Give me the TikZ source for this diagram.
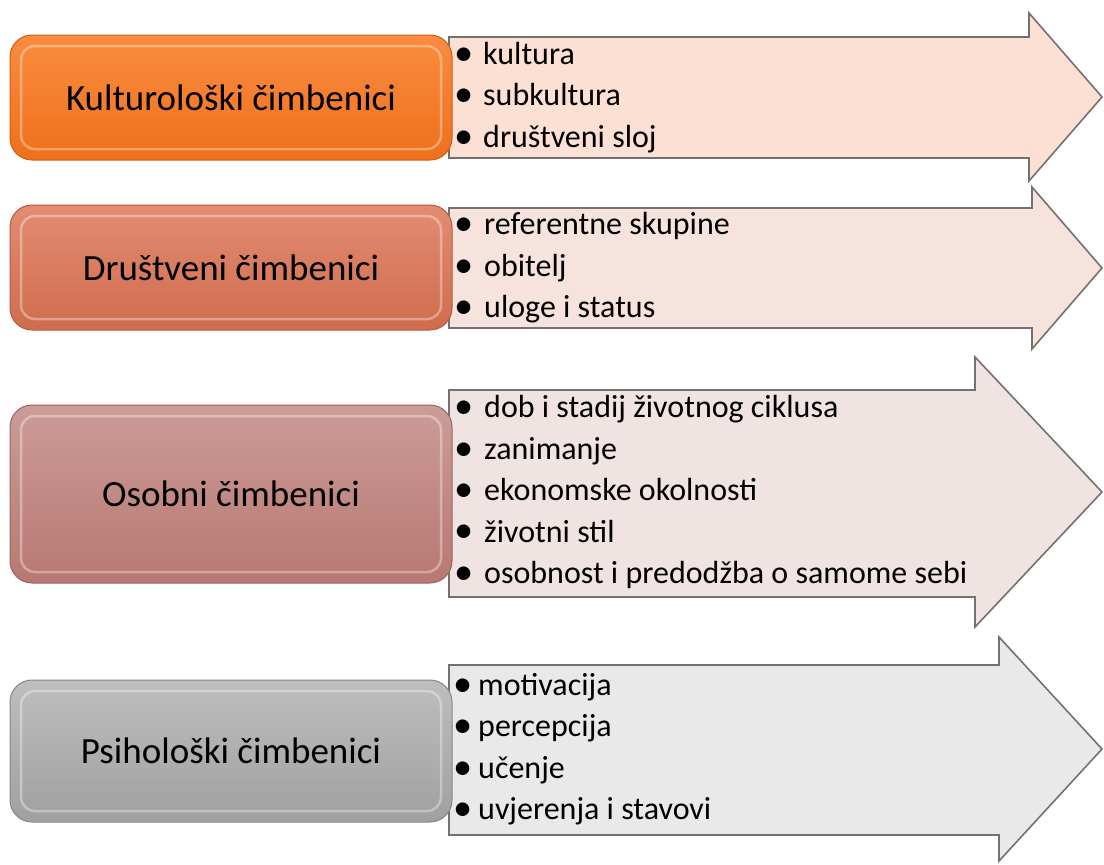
\documentclass[tikz,border=0pt]{standalone}
\usepackage{fontspec}
\setmainfont{Carlito}
\definecolor{kultTop}{RGB}{250,140,64}
\definecolor{kultBot}{RGB}{238,112,28}
\definecolor{drusTop}{RGB}{226,140,114}
\definecolor{drusBot}{RGB}{208,108,78}
\definecolor{osobTop}{RGB}{204,156,152}
\definecolor{osobBot}{RGB}{184,120,114}
\definecolor{psihTop}{RGB}{190,190,190}
\definecolor{psihBot}{RGB}{160,160,160}
\definecolor{str1}{RGB}{252,224,212}
\definecolor{str2}{RGB}{246,227,221}
\definecolor{str3}{RGB}{240,228,227}
\definecolor{str4}{RGB}{233,233,233}
\definecolor{rub}{RGB}{118,112,112}
\tikzstyle{faktor} = [draw, line width=1pt, rounded corners=22pt, minimum width=442pt,
    inner sep=0pt, align=center, font=\fontsize{37}{44}\selectfont,
    path picture={\draw[white, opacity=0.35, line width=2.5pt, rounded corners=14pt]
        ([shift={(11pt,-11pt)}]path picture bounding box.north west) rectangle
        ([shift={(-11pt,11pt)}]path picture bounding box.south east);}]
\tikzstyle{strelica} = [draw=rub, line width=1.6pt, line join=miter]
\tikzstyle{popis} = [anchor=west, align=left, inner sep=0pt, font=\fontsize{32}{41.5}\selectfont]
\newcommand{\stavka}[2][29pt]{\makebox[#1][l]{\raisebox{-0.03em}{\scalebox{1.2}{\textbullet}}}#2}

\begin{document}
\begin{tikzpicture}[x=1pt, y=-1pt]
    \useasboundingbox (0,0) rectangle (1104,865);
    % strelice
    \draw[strelica, fill=str1] (449,37) -- (1029,37) -- (1029,13) -- (1102,97)
        -- (1029,181) -- (1029,158) -- (449,158) -- cycle;
    \draw[strelica, fill=str2] (449,208) -- (1032,208) -- (1032,187) -- (1102,268)
        -- (1032,349) -- (1032,328) -- (449,328) -- cycle;
    \draw[strelica, fill=str3] (449,390) -- (975,390) -- (975,357) -- (1102,492)
        -- (975,627) -- (975,597) -- (449,597) -- cycle;
    \draw[strelica, fill=str4] (449,665) -- (999,665) -- (999,637) -- (1102,749)
        -- (999,861) -- (999,835) -- (449,835) -- cycle;
    % cimbenici
    \node[faktor, draw=kultBot!85!black, top color=kultTop, bottom color=kultBot,
        minimum height=125pt] (kult) at (231,97.5) {Kulturološki čimbenici};
    \node[faktor, draw=drusBot!85!black, top color=drusTop, bottom color=drusBot,
        minimum height=125pt] (drus) at (231,267.5) {Društveni čimbenici};
    \node[faktor, draw=osobBot!85!black, top color=osobTop, bottom color=osobBot,
        minimum height=178pt] (osob) at (231,494) {Osobni čimbenici};
    \node[faktor, draw=psihBot!85!black, top color=psihTop, bottom color=psihBot,
        minimum height=142pt] (psih) at (231,751) {Psihološki čimbenici};
    % popisi
    \node[popis] (popisKult) at (454,97.5) {\stavka{kultura}\\ \stavka{subkultura}\\
        \stavka{društveni sloj}};
    \node[popis] (popisDrus) at (454,268) {\stavka[30pt]{referentne skupine}\\ \stavka[30pt]{obitelj}\\
        \stavka[30pt]{uloge i status}};
    \node[popis] (popisOsob) at (454,492) {\stavka[30pt]{dob i stadij životnog ciklusa}\\
        \stavka[30pt]{zanimanje}\\ \stavka[30pt]{ekonomske okolnosti}\\ \stavka[30pt]{životni stil}\\
        \stavka[30pt]{osobnost i predodžba o samome sebi}};
    \node[popis] (popisPsih) at (453,749) {\stavka[25pt]{motivacija}\\
        \stavka[25pt]{percepcija}\\ \stavka[25pt]{učenje}\\ \stavka[25pt]{uvjerenja i stavovi}};
\end{tikzpicture}
\end{document}
